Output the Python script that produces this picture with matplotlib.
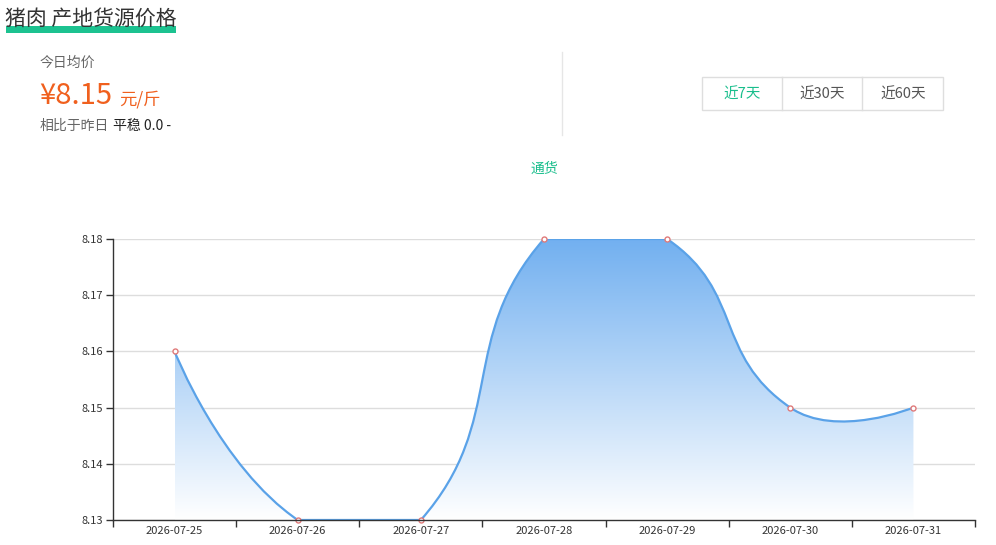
import numpy as np
import matplotlib
matplotlib.use('Agg')
import matplotlib.pyplot as plt
from matplotlib.path import Path
from matplotlib.patches import PathPatch, Rectangle
from matplotlib.lines import Line2D
from matplotlib.colors import LinearSegmentedColormap

plt.rcParams['font.family'] = ['Noto Sans CJK SC', 'DejaVu Sans']

# data
dates = ['2026-07-25', '2026-07-26', '2026-07-27', '2026-07-28',
         '2026-07-29', '2026-07-30', '2026-07-31']
prices = [8.16, 8.13, 8.13, 8.18, 8.18, 8.15, 8.15]
y_ticks = [8.13, 8.14, 8.15, 8.16, 8.17, 8.18]

title = '猪肉 产地货源价格'
avg_label = '今日均价'
avg_price = '¥8.15'
unit = '元/斤'
compare_label = '相比于昨日'
compare_value = '平稳 0.0 -'
ranges = ['近7天', '近30天', '近60天']
series_name = '通货'

W, H = 996, 545
GREEN = '#19be8c'
ORANGE = '#f0601e'
LINE = '#5aa2e8'
FILL_TOP = '#72b0f0'


def px(x, y):
    # pixel position (from top-left) -> figure fraction
    return x / W, 1 - y / H


def smooth_path(ax, xs, ys, smooth=0.5):
    """echarts style bezier smoothing, done in screen pixels"""
    pts = ax.transData.transform(np.column_stack([xs, ys]))
    lo, hi = pts.min(axis=0), pts.max(axis=0)
    n = len(pts)
    cps = []
    for i in range(n):
        p = pts[i]
        if i == 0 or i == n - 1:
            cps.append((p.copy(), p.copy()))
            continue
        prev, nxt = pts[i - 1], pts[i + 1]
        v = (nxt - prev) * smooth
        d0 = np.hypot(*(p - prev))
        d1 = np.hypot(*(p - nxt))
        s = d0 + d1
        if s:
            d0, d1 = d0 / s, d1 / s
        cps.append((np.clip(p - v * d0, lo, hi), np.clip(p + v * d1, lo, hi)))
    verts = [pts[0]]
    codes = [Path.MOVETO]
    for i in range(1, n):
        verts += [cps[i - 1][1], cps[i][0], pts[i]]
        codes += [Path.CURVE4] * 3
    verts = ax.transData.inverted().transform(np.array(verts))
    return verts, codes


fig = plt.figure(figsize=(W / 100, H / 100), dpi=100)

# header
fig.add_artist(Rectangle(px(6, 33), 170 / W, 7 / H, transform=fig.transFigure,
                         facecolor='#1cc290', edgecolor='none', zorder=1))
fig.text(*px(5, 19), title, fontsize=15, color='#333333', va='center', zorder=2)

fig.text(*px(40, 63), avg_label, fontsize=10, color='#666666', va='center')
fig.text(*px(39, 104), avg_price, fontsize=21, color=ORANGE, va='baseline')
fig.text(*px(119, 104), unit, fontsize=12.5, color=ORANGE, va='baseline')
fig.text(*px(40, 126), compare_label, fontsize=10, color='#666666', va='center')
fig.text(*px(113, 126), compare_value, fontsize=10, color='#222222', va='center')

fig.add_artist(Line2D([562 / W, 562 / W], [1 - 52 / H, 1 - 135 / H],
                      transform=fig.transFigure, color='#e6e6e6', lw=1))

# range buttons
fig.add_artist(Rectangle(px(702, 110), 241 / W, 33 / H, transform=fig.transFigure,
                         facecolor='none', edgecolor='#dedede', lw=1))
for xd in [782, 862]:
    fig.add_artist(Line2D([xd / W, xd / W], [1 - 77 / H, 1 - 110 / H],
                          transform=fig.transFigure, color='#dedede', lw=1))
for i, (lab, xc) in enumerate(zip(ranges, [742, 822, 903])):
    fig.text(*px(xc, 94.5), lab, fontsize=10.5, ha='center', va='center',
             color=GREEN if i == 0 else '#555555')

fig.text(*px(544, 169), series_name, fontsize=10, color=GREEN, ha='center', va='center')

# chart
ax = fig.add_axes([113 / W, 25 / H, 862 / W, 281 / H])
x = np.arange(len(dates))
ax.set_xlim(-0.5, len(dates) - 0.5)
ax.set_ylim(y_ticks[0], y_ticks[-1])

verts, codes = smooth_path(ax, x, prices)
area = np.vstack([verts, [[x[-1], y_ticks[0]], [x[0], y_ticks[0]], verts[0]]])
area_codes = codes + [Path.LINETO, Path.LINETO, Path.CLOSEPOLY]
clip = PathPatch(Path(area, area_codes), facecolor='none', edgecolor='none')
ax.add_patch(clip)
cmap = LinearSegmentedColormap.from_list('fade', ['#ffffff', FILL_TOP])
grad = np.linspace(0, 1, 256).reshape(-1, 1)
img = ax.imshow(grad, cmap=cmap, extent=[x[0], x[-1], y_ticks[0], y_ticks[-1]],
                origin='lower', aspect='auto', zorder=2)
img.set_clip_path(clip)

ax.add_patch(PathPatch(Path(verts, codes), facecolor='none', edgecolor=LINE,
                       lw=1.6, zorder=3))
ax.plot(x, prices, 'o', ms=3.6, mfc='white', mec='#e07a7a', mew=1, zorder=4,
        clip_on=False)

ax.set_xlim(-0.5, len(dates) - 0.5)
ax.set_ylim(y_ticks[0], y_ticks[-1])

ax.set_xticks(np.arange(-0.5, len(dates), 1))
ax.set_xticklabels([])
ax.set_xticks(x, minor=True)
ax.set_xticklabels(dates, minor=True)
ax.tick_params(axis='x', which='major', length=5, width=1, color='#333333')
ax.tick_params(axis='x', which='minor', length=0, pad=4, labelsize=8,
               labelcolor='#333333')
ax.set_yticks(y_ticks)
ax.set_yticklabels(['{:.2f}'.format(v) for v in y_ticks])
ax.tick_params(axis='y', length=5, width=1, color='#333333', pad=2,
               labelsize=8, labelcolor='#333333')

ax.grid(axis='y', color='#dddddd', lw=1)
ax.set_axisbelow(True)
for side in ['top', 'right']:
    ax.spines[side].set_visible(False)
for side in ['left', 'bottom']:
    ax.spines[side].set_color('#333333')
    ax.spines[side].set_linewidth(1)
    ax.spines[side].set_zorder(5)

fig.savefig('out.png', dpi=100)
